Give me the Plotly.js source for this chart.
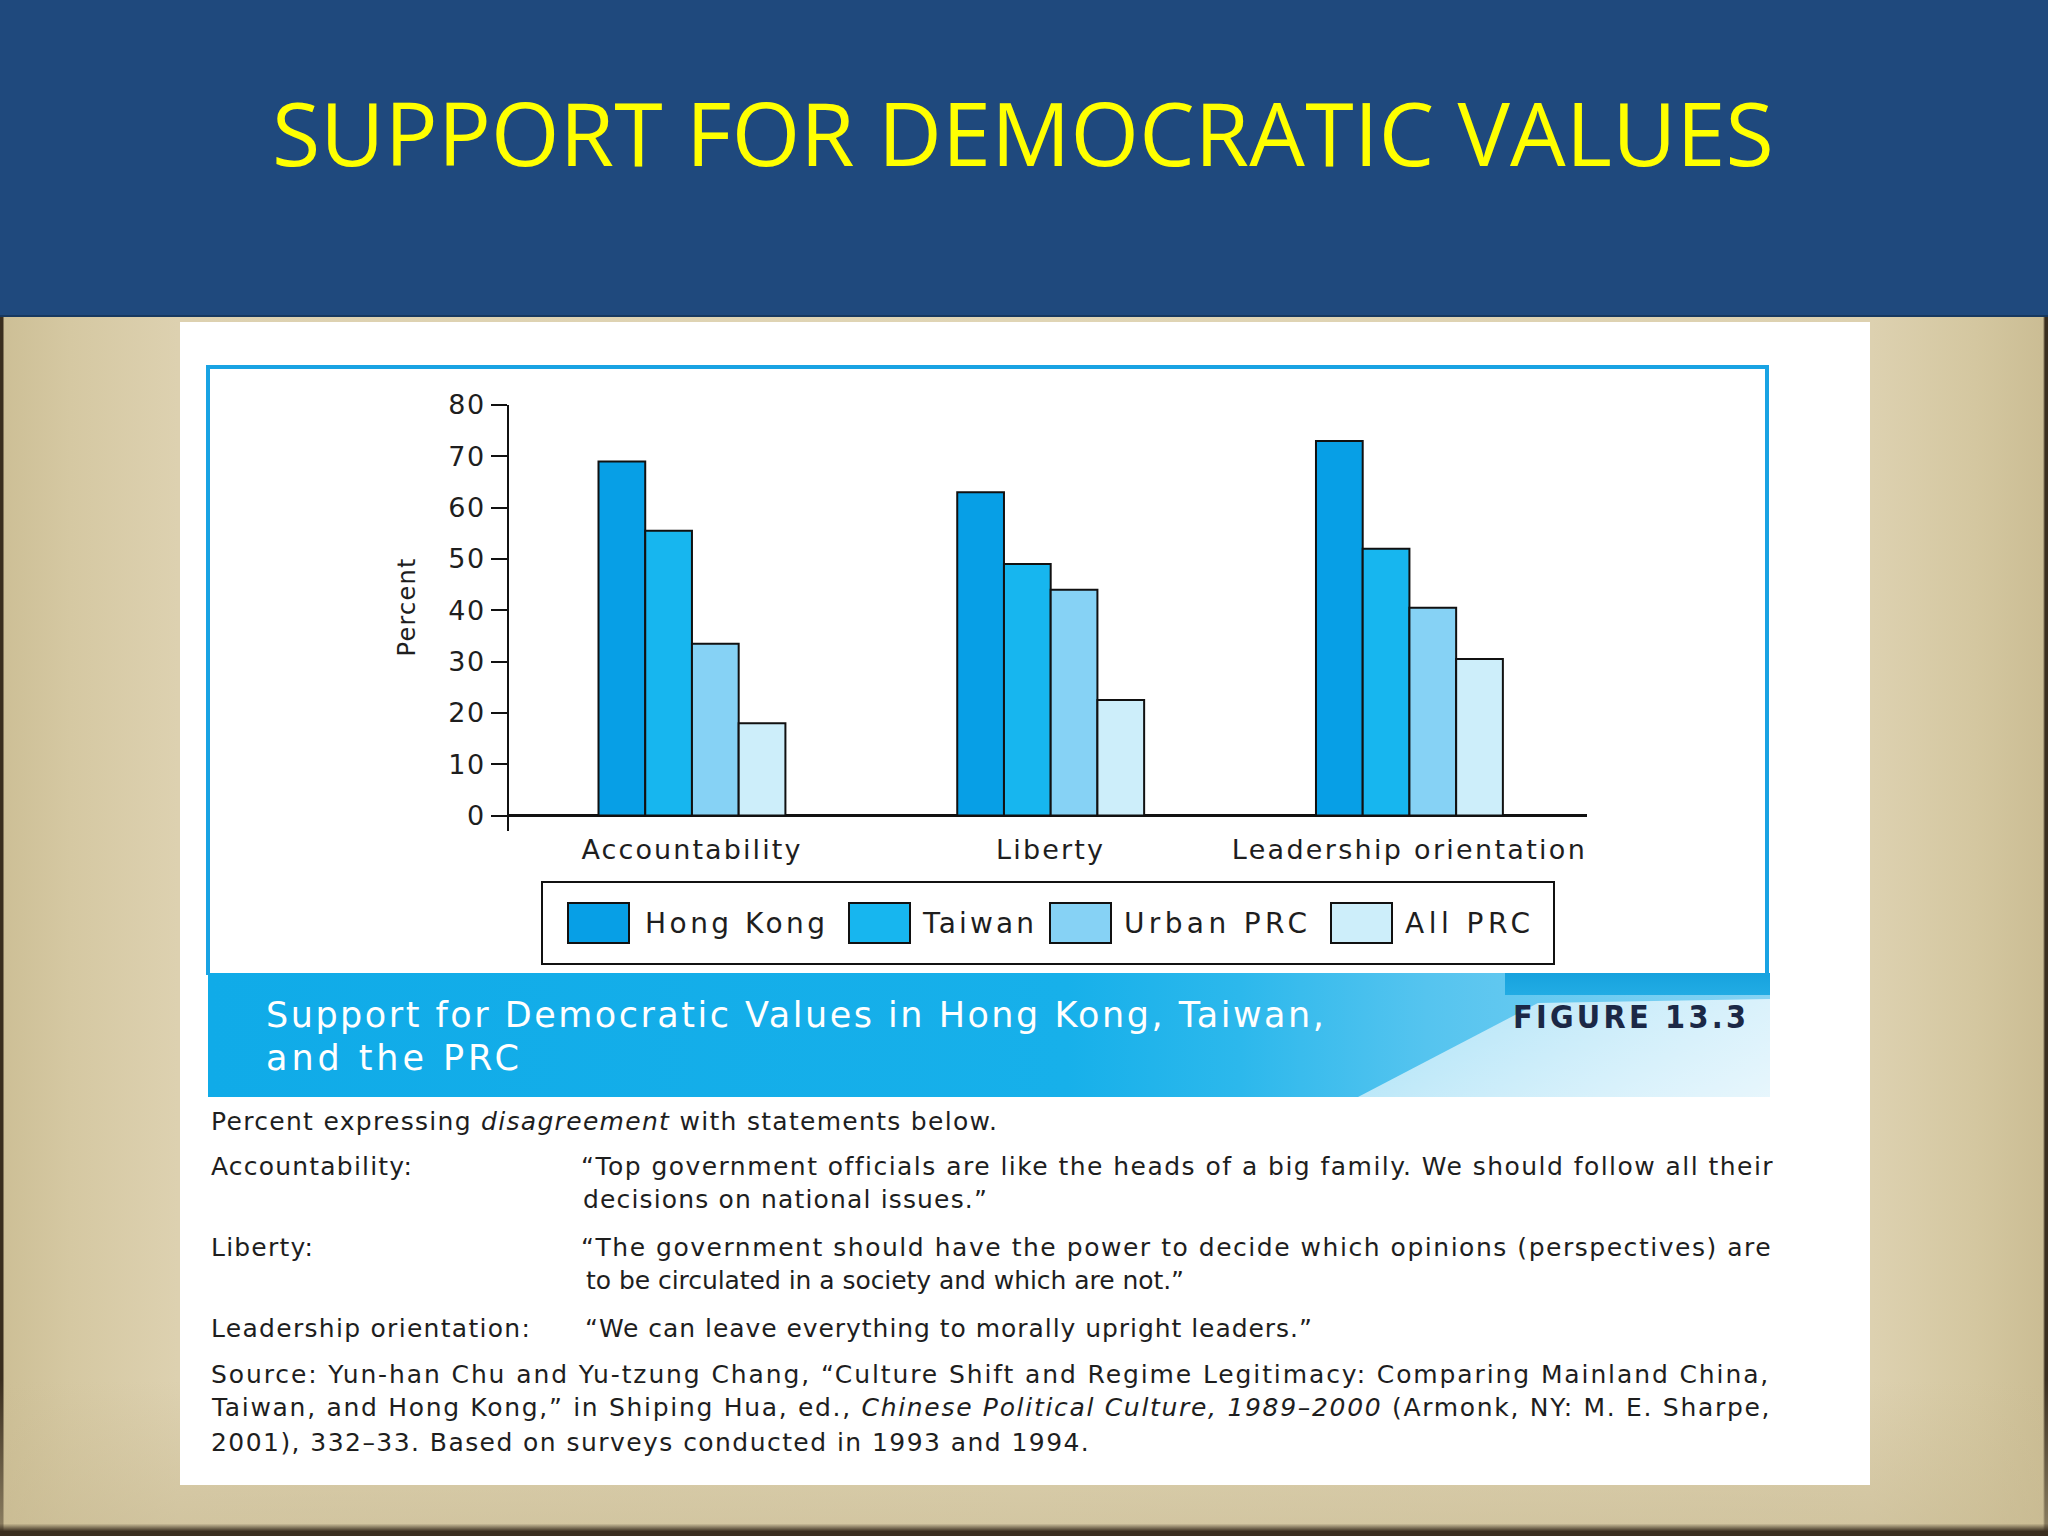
<!DOCTYPE html>
<html><head><meta charset="utf-8">
<script src="https://cdn.plot.ly/plotly-3.0.1.min.js"></script>
<style>
html,body{margin:0;padding:0;width:2048px;height:1536px;overflow:hidden;background:#d8cca8;}
.layer{position:absolute;}
#bg{left:0;top:0;width:2048px;height:1536px;background:linear-gradient(90deg,#3a2e1f 0px,#3a2e1f 3px,#cdbf96 4px,#d5c8a2 70px,#ddd1b0 178px,#e0d5b5 50%,#ddd1b0 1872px,#d4c7a0 1975px,#cbbd94 2043px,#3a2e1f 2045px);}
#bgb{left:0;top:1380px;width:2048px;height:156px;background:linear-gradient(180deg,rgba(200,186,146,0) 0%,rgba(200,186,146,0.55) 92%,#3a2e1f 97%,#3a2e1f 100%);}
#hdr{left:0;top:0;width:2048px;height:315px;background:#1f497d;border-bottom:2px solid #17385f;}
#panel{left:180px;top:322px;width:1690px;height:1163px;background:#ffffff;}
#band{left:208px;top:973px;width:1562px;height:124px;background:linear-gradient(90deg,#10abe8 0%,#17b0ea 55%,#2cb8ec 66%,#55c4ef 78%,#86d3f3 100%);}
#band2{left:208px;top:973px;width:1562px;height:124px;clip-path:polygon(1150px 124px,1330px 30px,1562px 26px,1562px 124px);background:linear-gradient(160deg,rgba(255,255,255,0) 0%,rgba(255,255,255,0.35) 40%,rgba(255,255,255,0.8) 100%);}
#band3{left:1505px;top:973px;width:265px;height:22px;background:linear-gradient(180deg,#17a2de,#22ace4);}
#plot{left:0;top:0;width:2048px;height:1536px;}
</style></head>
<body>
<div id="bg" class="layer"></div>
<div id="bgb" class="layer"></div>
<div id="hdr" class="layer"></div>
<div id="panel" class="layer"></div>
<div id="band" class="layer"></div>
<div id="band2" class="layer"></div>
<div id="band3" class="layer"></div>
<div id="plot" class="layer"></div>
<script>
// ---------- data ----------
const categories = ['Accountability', 'Liberty', 'Leadership orientation'];
const seriesNames = ['Hong Kong', 'Taiwan', 'Urban PRC', 'All PRC'];
const hongKong = [69, 63, 73];
const taiwan = [55.5, 49, 52];
const urbanPRC = [33.5, 44, 40.5];
const allPRC = [18, 22.5, 30.5];
const yTickValues = [0, 10, 20, 30, 40, 50, 60, 70, 80];

const chartTitle = 'SUPPORT FOR DEMOCRATIC VALUES';
const yTitle = 'Percent';
const captionLines = ['Support for Democratic Values in Hong Kong, Taiwan,', 'and the PRC'];
const figureLabel = 'FIGURE 13.3';
const notesLines = [
  'Percent expressing <i>disagreement</i> with statements below.',
  'Accountability:',
  '\u201CTop government officials are like the heads of a big family. We should follow all their',
  'decisions on national issues.\u201D',
  'Liberty:',
  '\u201CThe government should have the power to decide which opinions (perspectives) are',
  'to be circulated in a society and which are not.\u201D',
  'Leadership orientation:',
  '\u201CWe can leave everything to morally upright leaders.\u201D',
  'Source: Yun-han Chu and Yu-tzung Chang, \u201CCulture Shift and Regime Legitimacy: Comparing Mainland China,',
  'Taiwan, and Hong Kong,\u201D in Shiping Hua, ed., <i>Chinese Political Culture, 1989\u20132000</i> (Armonk, NY: M. E. Sharpe,',
  '2001), 332\u201333. Based on surveys conducted in 1993 and 1994.'
];

// ---------- style / geometry ----------
const seriesValues = [hongKong, taiwan, urbanPRC, allPRC];
const seriesColors = ['#079fe6', '#17b6ef', '#86d2f5', '#cdeefa'];
const W = 2048, H = 1536;
const PL = 509, PR = 1587, PT = 405, PB = 831;
const px = x => (x - PL) / (PR - PL);
const py = y => (PB - y) / (PB - PT);
const FONT = 'DejaVu Sans, Liberation Sans, Arial, sans-serif';

const legendSwatchX = [568, 849, 1050, 1331];
const legendTextX = [643, 920, 1122, 1403];
const legendTextW = [180, 111, 183, 125];

const notesPos = [
  [209, 1121, 786], [209, 1166, 201], [579, 1166, 1191], [581, 1199, 404],
  [209, 1247, 102], [579, 1247, 1190], [584, 1280, 598], [209, 1328, 319],
  [583, 1328, 727], [209, 1374, 1557], [209, 1407, 1558], [209, 1442, 878]
];

const traces = seriesNames.map((name, i) => ({
  type: 'bar', name: name, x: categories, y: seriesValues[i],
  marker: {color: seriesColors[i], line: {color: '#111111', width: 2}},
  showlegend: false, hoverinfo: 'skip'
}));

const shapes = [];
const annotations = [];
const fitTargets = {}; // annotation index -> width

// chart frame (left, top, right)
shapes.push({type: 'path', xref: 'paper', yref: 'paper', layer: 'below',
  path: `M ${px(208)},${py(975)} L ${px(208)},${py(367)} L ${px(1767)},${py(367)} L ${px(1767)},${py(975)}`,
  line: {color: '#19a3e3', width: 4}});
// legend box
shapes.push({type: 'rect', xref: 'paper', yref: 'paper', x0: px(542), x1: px(1554), y0: py(882), y1: py(964),
  line: {color: '#111111', width: 2}, fillcolor: 'rgba(255,255,255,0)'});
seriesNames.forEach((name, i) => {
  shapes.push({type: 'rect', xref: 'paper', yref: 'paper',
    x0: px(legendSwatchX[i]), x1: px(legendSwatchX[i] + 61), y0: py(903), y1: py(943),
    line: {color: '#111111', width: 2}, fillcolor: seriesColors[i]});
  fitTargets[annotations.length] = legendTextW[i];
  annotations.push({xref: 'paper', yref: 'paper', x: px(legendTextX[i]), y: py(923),
    xanchor: 'left', yanchor: 'middle', align: 'left', showarrow: false, text: name,
    font: {family: FONT, size: 28, color: '#1e1e1e'}});
});

// y title
fitTargets[annotations.length] = 98;
annotations.push({xref: 'paper', yref: 'paper', x: px(407), y: py(607), textangle: -90,
  xanchor: 'center', yanchor: 'middle', showarrow: false, text: yTitle,
  font: {family: FONT, size: 24, color: '#1e1e1e'}});

// caption in band
const capW = [1058, 253];
captionLines.forEach((t, i) => {
  fitTargets[annotations.length] = capW[i];
  annotations.push({xref: 'paper', yref: 'paper', x: px(264), y: py(1015 + 43 * i),
    xanchor: 'left', yanchor: 'middle', align: 'left', showarrow: false, text: t,
    font: {family: FONT, size: 35, color: '#ffffff'}});
});
fitTargets[annotations.length] = 233;
annotations.push({xref: 'paper', yref: 'paper', x: px(1511), y: py(1017),
  xanchor: 'left', yanchor: 'middle', align: 'left', showarrow: false, text: '<b>' + figureLabel + '</b>',
  font: {family: 'DejaVu Sans Condensed, DejaVu Sans, sans-serif', size: 32, color: '#1b2846'}});

// notes
notesLines.forEach((t, i) => {
  const p = notesPos[i];
  fitTargets[annotations.length] = p[2];
  annotations.push({xref: 'paper', yref: 'paper', x: px(p[0]), y: py(p[1]),
    xanchor: 'left', yanchor: 'middle', align: 'left', showarrow: false, text: t,
    font: {family: FONT, size: 25, color: '#1e1e1e'}});
});

const layout = {
  width: W, height: H,
  margin: {l: PL, r: W - PR, t: PT, b: H - PB, pad: 0},
  paper_bgcolor: 'rgba(0,0,0,0)', plot_bgcolor: 'rgba(0,0,0,0)',
  title: {text: chartTitle, x: 1023 / W, xref: 'container', xanchor: 'center',
    y: 1 - 135 / H, yref: 'container', yanchor: 'middle',
    font: {family: 'Open Sans, Noto Sans, sans-serif', size: 88, color: '#ffff00'}},
  barmode: 'group', bargap: 0.479, bargroupgap: 0,
  xaxis: {type: 'category', range: [-0.51, 2.495], showline: false, ticks: '', showgrid: false,
    zeroline: false, tickfont: {family: FONT, size: 27, color: '#1e1e1e'}, fixedrange: true},
  yaxis: {range: [-3, 80], tickvals: yTickValues, ticktext: yTickValues.map(String), showgrid: false,
    showline: true, linecolor: '#111111', linewidth: 2, ticks: 'outside', ticklen: 16, tickwidth: 2,
    tickcolor: '#111111', zeroline: true, zerolinecolor: '#111111', zerolinewidth: 2.5,
    tickfont: {family: FONT, size: 27, color: '#1e1e1e'}, fixedrange: true},
  shapes: shapes, annotations: annotations
};

function fitText(el, target) {
  el.style.letterSpacing = '0px';
  const len = el.getComputedTextLength();
  const n = el.textContent.length;
  if (n < 2) return;
  const s = (target - len) / (n - 1);
  el.style.letterSpacing = s.toFixed(2) + 'px';
}

Plotly.newPlot('plot', traces, layout, {staticPlot: true}).then(gd => {
  const tickW = {'Accountability': 219, 'Liberty': 107, 'Leadership orientation': 353};
  gd.querySelectorAll('.xtick text').forEach(el => { if (tickW[el.textContent]) fitText(el, tickW[el.textContent]); });
  gd.querySelectorAll('.ytick text').forEach(el => { el.style.letterSpacing = '1.5px'; });
  const t = gd.querySelector('.gtitle'); if (t) fitText(t, 1502);
  gd.querySelectorAll('g.annotation').forEach(g => {
    const idx = g.getAttribute('data-index');
    const el = g.querySelector('text');
    if (el && fitTargets[idx] !== undefined) fitText(el, fitTargets[idx]);
  });
});
</script>
</body></html>
